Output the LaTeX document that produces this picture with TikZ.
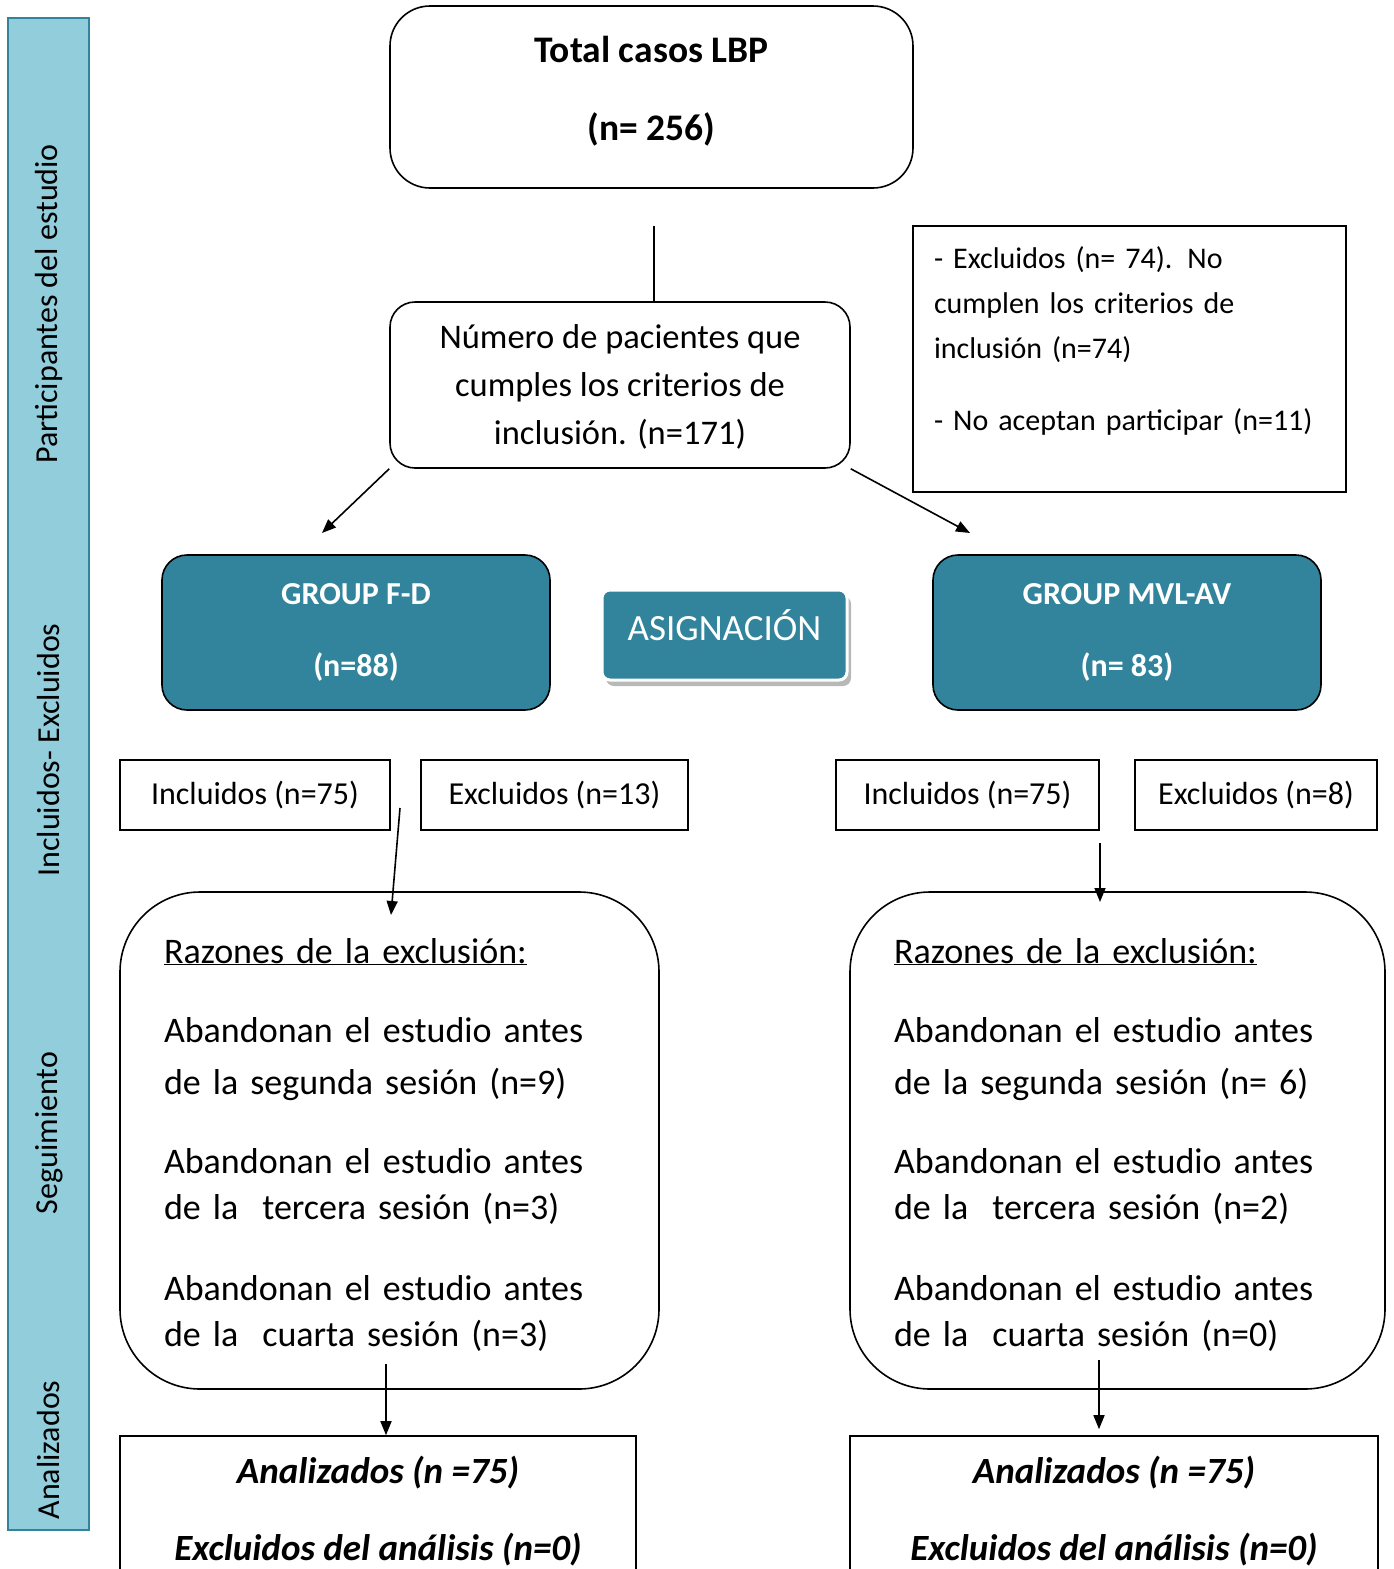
\documentclass[tikz,border=0pt]{standalone}
\usepackage{fontspec}
\setmainfont{Carlito}
\usetikzlibrary{arrows.meta,shadows}

\definecolor{teal}{RGB}{49,132,155}
\definecolor{sidebar}{RGB}{146,205,220}

\tikzset{
  box/.style={draw,line width=1.6pt,inner sep=0pt},
  roundbox/.style={box,rounded corners=#1},
  groupbox/.style={roundbox=25pt,fill=teal,text=white,align=center,
    font=\fontsize{32}{38}\selectfont\bfseries},
  smallbox/.style={box,minimum height=70pt,font=\fontsize{32}{38}\selectfont},
  reasonbox/.style={roundbox=80pt,minimum height=497pt,align=left,
    inner xsep=44pt,text depth=380pt,font=\fontsize{36}{46}\selectfont},
  endbox/.style={box,minimum height=150pt,align=center,
    font=\fontsize{37}{42}\selectfont\bfseries\itshape},
  sidetext/.style={rotate=90,font=\fontsize{32}{38}\selectfont},
  arr/.style={line width=1.6pt,-{Triangle[length=14pt,width=11pt]}}
}

\begin{document}
\begin{tikzpicture}[x=1pt,y=-1pt]

\useasboundingbox (0,0) rectangle (1394,1569);
\clip (0,0) rectangle (1394,1569);

% side bar
\draw[fill=sidebar,draw=teal,line width=1.6pt] (8,18) rectangle (89,1530);
\node[sidetext] (s1) at (49,304) {Participantes del estudio};
\node[sidetext] (s2) at (49,750) {Incluidos- Excluidos};
\node[sidetext] (s3) at (49,1133) {Seguimiento};
\node[sidetext] (s4) at (49,1450) {Analizados};

% top
\node[roundbox=40pt,minimum width=523pt,minimum height=182pt,align=center,
  text depth=18pt,font=\fontsize{37.5}{42}\selectfont\bfseries] (total) at (651.5,97)
  {Total casos LBP\\[36pt](n= 256)};
\node[roundbox=25pt,minimum width=460pt,minimum height=166pt,align=center,
  text depth=-19pt,font=\fontsize{34.5}{48}\selectfont] (cumple) at (620,385)
  {Número de pacientes que\\cumples los criterios de\\inclusión. (n=171)};
\node[box,minimum width=433pt,minimum height=266pt,text width=391pt,align=left,
  inner xsep=21pt,text depth=202pt,font=\fontsize{30}{45}\selectfont] (excl) at (1129.5,359)
  {- Excluidos (n= 74). No\\cumplen los criterios de\\inclusión (n=74)\\[27pt]- No aceptan participar (n=11)};

\coordinate (topfoot) at (654,226);
\draw[line width=1.6pt] (topfoot) -- (topfoot |- cumple.north);

% groups
\node[groupbox,minimum width=388pt,minimum height=155pt] (fd) at (356,632.5)
  {GROUP F-D\\[34pt](n=88)};
\node[groupbox,minimum width=388pt,minimum height=155pt] (mvl) at (1127,632.5)
  {GROUP MVL-AV\\[34pt](n= 83)};
\node[roundbox=8pt,draw=white,line width=3pt,fill=teal,text=white,
  minimum width=245pt,minimum height=90pt,text depth=20pt,
  font=\fontsize{37}{42}\selectfont,
  drop shadow={shadow xshift=4pt,shadow yshift=-6pt,fill=black!35,opacity=0.8}]
  (asig) at (724.5,635) {ASIGNACIÓN};

\coordinate (fdtop) at (322,533);
\coordinate (mvltop) at (970,533);
\draw[arr] (cumple.south west) -- (fdtop);
\draw[arr] (cumple.south east) -- (mvltop);

% included / excluded
\node[smallbox,minimum width=270pt] (incl1) at (255,795) {Incluidos (n=75)};
\node[smallbox,minimum width=267pt] (excl1) at (554.5,795) {Excluidos (n=13)};
\node[smallbox,minimum width=263pt] (incl2) at (967.5,795) {Incluidos (n=75)};
\node[smallbox,minimum width=242pt] (excl2) at (1256,795) {Excluidos (n=8)};

% reasons
\node[reasonbox,minimum width=539pt,text width=451pt] (raz1) at (389.5,1140.5)
  {\underline{Razones de la exclusión:}\\[33pt]
   Abandonan el estudio antes\\[6pt]de la segunda sesión (n=9)\\[33pt]
   Abandonan el estudio antes\\de la\ \ tercera sesión (n=3)\\[35pt]
   Abandonan el estudio antes\\de la\ \ cuarta sesión (n=3)};
\node[reasonbox,minimum width=535pt,text width=447pt] (raz2) at (1117.5,1140.5)
  {\underline{Razones de la exclusión:}\\[33pt]
   Abandonan el estudio antes\\[6pt]de la segunda sesión (n= 6)\\[33pt]
   Abandonan el estudio antes\\de la\ \ tercera sesión (n=2)\\[35pt]
   Abandonan el estudio antes\\de la\ \ cuarta sesión (n=0)};

\coordinate (a1) at (400,808);
\coordinate (b1) at (391,915);
\coordinate (a2) at (1100,843);
\coordinate (b2) at (1100,902);
\draw[arr] (a1) -- (b1);
\draw[arr] (a2) -- (b2);

% analysed
\node[endbox,minimum width=516pt] (ana1) at (378,1511)
  {Analizados (n =75)\\[35pt]Excluidos del análisis (n=0)};
\node[endbox,minimum width=528pt] (ana2) at (1114,1511)
  {Analizados (n =75)\\[35pt]Excluidos del análisis (n=0)};

\coordinate (c1) at (386,1364);
\coordinate (c2) at (1099,1360);
\draw[arr] (c1) -- (c1 |- ana1.north);
\draw[arr] (c2) -- ([yshift=6pt]c2 |- ana2.north);

\end{tikzpicture}
\end{document}
